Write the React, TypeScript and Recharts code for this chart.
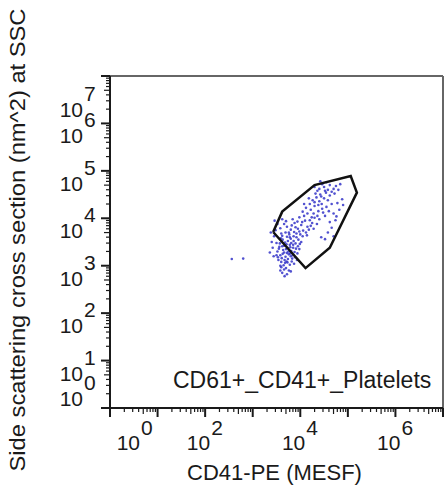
import { Legend, ReferenceLine, Scatter, ScatterChart, XAxis, YAxis } from "recharts";

const platelets: [number, number][] = [
  // dense core around the lower-left edge of the gate
  [3.62, 3.41], [3.7, 3.35], [3.78, 3.44], [3.66, 3.28], [3.74, 3.52], [3.81, 3.31],
  [3.58, 3.22], [3.69, 3.19], [3.85, 3.38], [3.9, 3.47], [3.63, 3.55], [3.55, 3.36],
  [3.72, 3.61], [3.8, 3.57], [3.88, 3.29], [3.95, 3.41], [3.67, 3.12], [3.76, 3.24],
  [3.6, 3.08], [3.83, 3.15], [3.71, 3.45], [3.64, 3.33], [3.79, 3.39], [3.86, 3.52],
  [3.92, 3.6], [3.57, 3.47], [3.52, 3.3], [3.68, 3.49], [3.75, 3.3], [3.84, 3.22],
  [3.98, 3.35], [4.02, 3.5], [3.61, 3.16], [3.73, 3.07], [3.65, 3.01], [3.78, 3.02],
  [3.7, 2.95], [3.58, 3.0], [3.82, 3.09], [3.66, 2.92], [3.74, 3.14], [3.89, 3.18],
  [3.94, 3.26], [3.54, 3.12], [3.5, 3.22], [3.62, 3.63], [3.77, 3.66], [3.87, 3.71],
  [3.96, 3.55], [4.05, 3.62], [3.69, 3.7], [3.59, 3.58], [3.81, 3.48], [3.73, 3.38],
  [3.66, 3.42], [3.91, 3.36], [3.85, 3.44], [3.99, 3.46], [3.56, 3.4], [3.79, 3.26],
  [3.63, 3.25], [3.71, 3.09], [3.87, 3.04], [3.6, 2.97], [3.76, 2.9], [3.68, 3.06],
  [3.53, 3.18], [3.93, 3.12], [3.8, 3.2], [3.72, 3.27],
  // tail under the gate
  [3.62, 2.85], [3.72, 2.82], [3.8, 2.88], [3.67, 2.78], [3.58, 2.9],
  // middle of the band
  [3.72, 3.82], [3.8, 3.76], [3.88, 3.9], [3.95, 3.78], [4.02, 3.86], [4.1, 3.95],
  [3.84, 3.98], [3.76, 3.7], [3.92, 3.68], [4.06, 3.74], [4.15, 3.82], [4.2, 3.96],
  [3.66, 3.88], [3.58, 3.79], [3.98, 4.02], [4.08, 4.05], [4.25, 3.9], [4.3, 4.01],
  [3.86, 3.62], [4.0, 3.66], [4.12, 3.7], [3.7, 3.94], [3.62, 3.98], [3.94, 3.93],
  [4.18, 3.76], [4.35, 3.88], [3.82, 3.85], [3.9, 3.81], [4.04, 3.92], [4.22, 3.84],
  [3.78, 3.6], [4.14, 3.64], [4.28, 3.78], [3.98, 3.72], [3.6, 3.68], [4.4, 3.98],
  // upper band
  [4.15, 4.1], [4.22, 4.18], [4.3, 4.26], [4.38, 4.15], [4.45, 4.3], [4.26, 4.38],
  [4.34, 4.44], [4.42, 4.5], [4.5, 4.42], [4.55, 4.24], [4.48, 4.12], [4.36, 4.05],
  [4.2, 4.3], [4.12, 4.22], [4.05, 4.14], [4.28, 4.1], [4.4, 4.36], [4.58, 4.38],
  [4.62, 4.48], [4.32, 4.52], [4.18, 4.42], [4.46, 4.2], [4.52, 4.05], [4.6, 4.15],
  [4.24, 4.02], [4.08, 4.3], [4.38, 4.28], [4.44, 4.46], [4.3, 4.34], [4.54, 4.54],
  [4.66, 4.3], [4.7, 4.1],
  // top of the cloud
  [4.4, 4.62], [4.5, 4.66], [4.58, 4.6], [4.46, 4.72], [4.62, 4.7], [4.7, 4.62],
  [4.36, 4.58], [4.55, 4.76], [4.66, 4.56], [4.75, 4.68], [4.8, 4.6], [4.52, 4.58],
  [4.3, 4.66], [4.42, 4.78], [4.72, 4.52], [4.84, 4.72],
  // sparse, right side
  [4.78, 4.32], [4.82, 4.18], [4.74, 3.96], [4.66, 3.8], [4.7, 3.62], [4.58, 3.7],
  [4.88, 4.4], [4.52, 3.56], [4.44, 3.6], [4.62, 3.92], [4.76, 4.04], [4.9, 4.28],
  // sparse, left side
  [3.45, 3.62], [3.4, 3.5], [3.48, 3.75], [3.42, 3.38], [3.52, 3.88], [3.38, 3.7],
  [3.46, 3.95], [3.5, 3.48], [3.36, 3.28], [3.44, 3.2],
];

const debris: [number, number][] = [
  [2.56, 3.14],
  [2.8, 3.15],
];

// gate polygon, closed
const gate: [number, number][] = [
  [3.43, 3.71], [3.62, 4.14], [4.3, 4.7], [5.06, 4.89],
  [5.19, 4.54], [4.62, 3.38], [4.11, 2.95], [3.43, 3.71],
];

const gateName = "CD61+_CD41+_Platelets";
const decades = [0, 1, 2, 3, 4, 5, 6, 7];
const minorSteps = [2, 3, 4, 5, 6, 7, 8, 9];
const xLabelPowers = [0, 2, 4, 6];
const yLabelPowers = [0, 1, 2, 3, 4, 5, 6, 7];

const logTicks = decades.flatMap((d) =>
  d === 7 ? [d] : [d, ...minorSteps.map((k) => d + Math.log10(k))]
);

const toPoints = (rows: [number, number][]) => rows.map(([x, y]) => ({ x, y }));

const font = "'Liberation Sans', Arial, sans-serif";
const ink = "#1a1a1a";

function tickKind(v: number) {
  const power = Math.round(v);
  const major = Math.abs(v - power) < 1e-6;
  const mid = !major && Math.abs(v - Math.floor(v) - Math.log10(5)) < 1e-6;
  return { power, major, len: major ? 9 : mid ? 6 : 4 };
}

function XTick(props: any) {
  const { x, y, payload } = props;
  const { power, major, len } = tickKind(payload.value);
  const lx = Math.max(x, 135);
  return (
    <g>
      <line x1={x} y1={y} x2={x} y2={y + len} stroke={ink} strokeWidth={major ? 2 : 1.2} />
      {major && xLabelPowers.includes(power) && (
        <>
          <text x={lx + 5} y={y + 42} textAnchor="end" fontSize={21} fontFamily={font} fill={ink}>
            10
          </text>
          <text x={lx + 6} y={y + 27} textAnchor="start" fontSize={21} fontFamily={font} fill={ink}>
            {power}
          </text>
        </>
      )}
    </g>
  );
}

function YTick(props: any) {
  const { x, y, payload } = props;
  const { power, major, len } = tickKind(payload.value);
  const c = Math.min(Math.max(y + 5, 102), 391);
  return (
    <g>
      <line x1={x} y1={y} x2={x - len} y2={y} stroke={ink} strokeWidth={major ? 2 : 1.2} />
      {major && yLabelPowers.includes(power) && (
        <>
          <text x={x - 27} y={c + 15} textAnchor="end" fontSize={21} fontFamily={font} fill={ink}>
            10
          </text>
          <text x={x - 26} y={c - 1} textAnchor="start" fontSize={21} fontFamily={font} fill={ink}>
            {power}
          </text>
        </>
      )}
    </g>
  );
}

function XTitle(props: any) {
  const vb = props.viewBox;
  return (
    <text x={vb.x + vb.width / 2 - 2} y={480} textAnchor="middle" fontSize={22} fontFamily={font} fill={ink}>
      CD41-PE (MESF)
    </text>
  );
}

function YTitle(props: any) {
  const vb = props.viewBox;
  const cy = vb.y + vb.height / 2 - 2;
  return (
    <text
      x={25}
      y={cy}
      transform={`rotate(-90, 25, ${cy})`}
      textAnchor="middle"
      fontSize={22}
      fontFamily={font}
      fill={ink}
      textLength={463}
      lengthAdjust="spacingAndGlyphs"
    >
      Side scattering cross section (nm^2) at SSC
    </text>
  );
}

const Dot = (p: any) => <circle cx={p.cx} cy={p.cy} r={1.3} fill="#3434c8" fillOpacity={0.85} />;
const NoDot = () => <g />;

export default function App() {
  return (
    <div style={{ position: "absolute", left: 0, top: 0, background: "#fff" }}>
      <ScatterChart width={445} height={488} margin={{ top: 76, right: 2, bottom: 0, left: 0 }}>
        <XAxis
          type="number"
          dataKey="x"
          domain={[0, 7]}
          ticks={logTicks}
          interval={0}
          tick={<XTick />}
          tickLine={false}
          tickSize={0}
          tickMargin={0}
          height={80}
          axisLine={{ stroke: ink, strokeWidth: 2 }}
          allowDataOverflow
          label={{ content: XTitle }}
        />
        <YAxis
          type="number"
          dataKey="y"
          domain={[0, 7]}
          ticks={logTicks}
          interval={0}
          tick={<YTick />}
          tickLine={false}
          tickSize={0}
          tickMargin={0}
          width={110}
          axisLine={{ stroke: ink, strokeWidth: 2 }}
          allowDataOverflow
          label={{ content: YTitle }}
        />
        <ReferenceLine y={7} stroke="#666" strokeWidth={2} />
        <ReferenceLine x={7} stroke="#666" strokeWidth={2} />
        <Scatter data={toPoints(debris)} shape={Dot} isAnimationActive={false} legendType="none" />
        <Scatter data={toPoints(platelets)} shape={Dot} isAnimationActive={false} legendType="none" />
        <Scatter
          name={gateName}
          data={toPoints(gate)}
          shape={NoDot}
          line={{ stroke: "#111", strokeWidth: 2.5 }}
          lineType="joint"
          isAnimationActive={false}
        />
        <Legend
          layout="horizontal"
          verticalAlign="middle"
          align="center"
          wrapperStyle={{ left: 173, top: 369, width: 262 }}
          content={() => (
            <div style={{ fontFamily: font, fontSize: 23, lineHeight: "23px", color: ink, whiteSpace: "nowrap" }}>
              {gateName}
            </div>
          )}
        />
      </ScatterChart>
    </div>
  );
}
